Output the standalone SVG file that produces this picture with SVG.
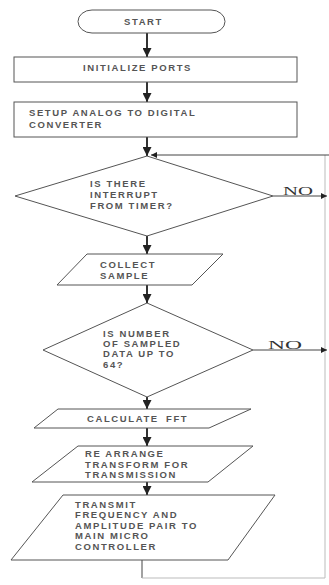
<svg xmlns="http://www.w3.org/2000/svg" width="329" height="585" viewBox="0 0 329 585">
<defs>
<marker id="ah" viewBox="0 0 10 10" refX="10" refY="5" markerWidth="4.5" markerHeight="4.5" orient="auto" markerUnits="strokeWidth">
<path d="M0,0 L10,5 L0,10 z" fill="#222"/>
</marker>
<marker id="ahs" viewBox="0 0 10 10" refX="10" refY="5" markerWidth="6" markerHeight="6" orient="auto" markerUnits="strokeWidth">
<path d="M0,0 L10,5 L0,10 z" fill="#222"/>
</marker>
<style>
.shape{fill:#fff;stroke:#555;stroke-width:1}
.t{font-family:"Liberation Sans",Arial,sans-serif;font-size:9.5px;font-weight:bold;letter-spacing:1.6px;fill:#555}
.no{font-family:"Liberation Serif","Times New Roman",serif;font-size:12.5px;fill:#333}
.c{fill:none;stroke:#333;stroke-width:2}
.ct{fill:none;stroke:#444;stroke-width:1}
.cf{fill:none;stroke:#bbb;stroke-width:1}
</style>
</defs>
<rect width="329" height="585" fill="#fff"/>
<g id="connectors">
<line class="c" x1="147" y1="33" x2="147" y2="57" marker-end="url(#ah)"/>
<line class="c" x1="147" y1="82" x2="147" y2="102" marker-end="url(#ah)"/>
<line class="c" x1="147" y1="137" x2="147" y2="156" marker-end="url(#ah)"/>
<line class="c" x1="147" y1="236" x2="147" y2="254" marker-end="url(#ah)"/>
<line class="c" x1="147" y1="285" x2="147" y2="303" marker-end="url(#ah)"/>
<line class="c" x1="147" y1="397" x2="147" y2="409" marker-end="url(#ah)"/>
<line class="c" x1="147" y1="428" x2="147" y2="446" marker-end="url(#ah)"/>
<line class="c" x1="147" y1="482" x2="147" y2="495" marker-end="url(#ah)"/>
<polyline class="ct" points="142,560 142,578"/>
<polyline class="cf" points="142,578 325,578 325,155"/>
<line class="ct" x1="329" y1="155" x2="151" y2="155" marker-end="url(#ahs)"/>
<line class="ct" x1="273" y1="196" x2="327" y2="196" marker-end="url(#ahs)"/>
<line class="ct" x1="253" y1="350" x2="327" y2="350" marker-end="url(#ahs)"/>
<text class="no" x="283" y="195" textLength="30" lengthAdjust="spacingAndGlyphs">NO</text>
<text class="no" x="268" y="349" textLength="34" lengthAdjust="spacingAndGlyphs">NO</text>
</g>
<g id="start">
<rect class="shape" x="78" y="10" width="147" height="23" rx="14" ry="11.5"/>
<text class="t" x="124" y="25">START</text>
</g>
<g id="init">
<rect class="shape" x="14" y="57" width="283" height="25"/>
<text class="t" x="83" y="70.5">INITIALIZE PORTS</text>
</g>
<g id="setup">
<rect class="shape" x="14" y="102" width="283" height="35"/>
<text class="t" x="29" y="115.5">SETUP ANALOG TO DIGITAL</text>
<text class="t" x="29" y="127.5">CONVERTER</text>
</g>
<g id="interrupt">
<polygon class="shape" points="147,156 273,196 147,236 15,196"/>
<text class="t" x="90" y="186.5">IS THERE</text>
<text class="t" x="90" y="197.5">INTERRUPT</text>
<text class="t" x="90" y="208.5">FROM TIMER?</text>
</g>
<g id="collect">
<polygon class="shape" points="87,254 223,254 192,285 57,285"/>
<text class="t" x="100" y="267.5">COLLECT</text>
<text class="t" x="100" y="278.5">SAMPLE</text>
</g>
<g id="count">
<polygon class="shape" points="147,303 253,350 147,397 43,350"/>
<text class="t" x="103" y="336.5">IS NUMBER</text>
<text class="t" x="103" y="347">OF SAMPLED</text>
<text class="t" x="103" y="357">DATA UP TO</text>
<text class="t" x="103" y="367.5">64?</text>
</g>
<g id="fft">
<polygon class="shape" points="58,409 251,409 209,428 34,428"/>
<text class="t" x="87" y="421.5">CALCULATE<tspan x="166">FFT</tspan></text>
</g>
<g id="rearrange">
<polygon class="shape" points="78,446 253,446 208,482 32,482"/>
<text class="t" x="85" y="456.5">RE ARRANGE</text>
<text class="t" x="85" y="467.5">TRANSFORM FOR</text>
<text class="t" x="85" y="478">TRANSMISSION</text>
</g>
<g id="transmit">
<polygon class="shape" points="63,495 275,495 228,560 11,560"/>
<text class="t" x="75" y="507.5">TRANSMIT</text>
<text class="t" x="75" y="518">FREQUENCY AND</text>
<text class="t" x="75" y="528.5">AMPLITUDE PAIR TO</text>
<text class="t" x="75" y="539">MAIN MICRO</text>
<text class="t" x="75" y="549.5">CONTROLLER</text>
</g>
</svg>
